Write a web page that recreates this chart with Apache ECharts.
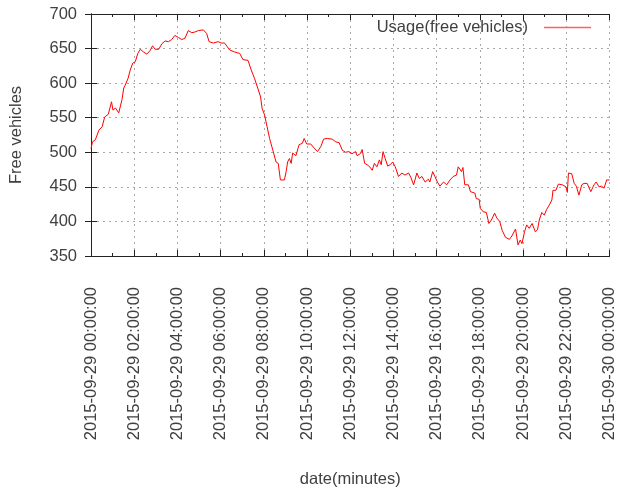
<!DOCTYPE html>
<html>
<head>
<meta charset="utf-8">
<script src="https://cdn.jsdelivr.net/npm/echarts@6/dist/echarts.min.js"></script>
<style>
  html, body { margin: 0; padding: 0; background: #fff; }
  #chart { width: 618px; height: 489px; }
</style>
</head>
<body>
<div id="chart"></div>
<script>
// minutes since 2015-09-29 00:00
const minutes = [
  0, 4, 12, 22, 31, 38, 48, 57, 61, 68,
  77, 82, 86, 91, 95, 103, 109, 116, 123, 130,
  137, 146, 155, 164, 171, 178, 188, 197, 206, 215,
  224, 233, 243, 252, 261, 270, 280, 289, 298, 312,
  321, 328, 340, 353, 362, 371, 376, 385, 399, 413,
  422, 436, 445, 454, 463, 471, 475, 482, 489, 496,
  505, 514, 520, 526, 537, 542, 546, 551, 556, 560,
  569, 578, 587, 592, 599, 610, 620, 629, 638, 646,
  656, 670, 680, 689, 698, 707, 716, 725, 735, 739,
  748, 753, 760, 767, 774, 781, 787, 794, 801, 806,
  811, 817, 824, 831, 838, 845, 854, 863, 872, 882,
  888, 896, 905, 912, 919, 928, 937, 941, 949, 955,
  962, 969, 979, 988, 997, 1006, 1015, 1020, 1029, 1033,
  1038, 1048, 1054, 1066, 1070, 1078, 1081, 1089, 1098, 1105,
  1112, 1121, 1127, 1135, 1142, 1151, 1162, 1169, 1179, 1186,
  1192, 1197, 1204, 1210, 1217, 1225, 1234, 1240, 1245, 1252,
  1259, 1265, 1273, 1280, 1283, 1291, 1298, 1309, 1319, 1323,
  1326, 1335, 1342, 1348, 1355, 1363, 1369, 1378, 1388, 1397,
  1403, 1411, 1418, 1425, 1432, 1440
];
const freeVehicles = [
  505, 515, 518, 532, 537, 551, 555, 573, 561, 564,
  557, 559, 576, 593, 597, 607, 619, 629, 631, 643,
  649, 645, 642, 647, 654, 649, 649, 657, 661, 660,
  663, 669, 666, 663, 665, 676, 673, 674, 676, 677,
  672, 660, 658, 660, 658, 658, 660, 648, 645, 643,
  634, 633, 619, 607, 593, 580, 564, 554, 537, 520,
  503, 486, 484, 460, 460, 472, 486, 491, 484, 499,
  495, 511, 513, 520, 512, 512, 506, 501, 508, 519,
  520, 519, 515, 514, 503, 500, 501, 498, 501, 495,
  498, 504, 484, 482, 479, 474, 484, 479, 489, 482,
  501, 491, 480, 482, 486, 479, 465, 470, 467, 470,
  464, 453, 470, 462, 465, 457, 461, 457, 472, 465,
  457, 451, 457, 453, 460, 465, 467, 479, 472, 478,
  453, 453, 443, 441, 433, 432, 419, 414, 413, 397,
  402, 412, 405, 400, 387, 377, 374, 379, 389, 366,
  373, 368, 385, 395, 390, 397, 385, 388, 402, 413,
  409, 417, 424, 431, 445, 445, 454, 453, 450, 442,
  470, 469, 455, 451, 438, 453, 455, 455, 443, 453,
  457, 450, 451, 448, 460, 460
];
const hourTicks = [0, 2, 4, 6, 8, 10, 12, 14, 16, 18, 20, 22, 24];
const yTicks = [350, 400, 450, 500, 550, 600, 650, 700];

const pad = n => String(n).padStart(2, '0');
const hourLabel = h => (h >= 24 ? '2015-09-30 00:00:00' : `2015-09-29 ${pad(h)}:00:00`);

const chart = echarts.init(document.getElementById('chart'));
const font = 'Liberation Sans';
const fs = 16.5;
const textColor = '#404040';
const frame = '#222';
const grid = { color: '#a8a8a8', type: [2, 4], width: 1 };

chart.setOption({
  animation: false,
  backgroundColor: '#fff',
  textStyle: { fontFamily: font },
  grid: { left: 90, right: 6, top: 14, bottom: 233, containLabel: false },
  legend: {
    right: 22,
    top: 14,
    align: 'right',
    icon: 'rect',
    itemWidth: 47,
    itemHeight: 1.5,
    itemStyle: { color: '#ff6060' },
    textStyle: { fontFamily: font, fontSize: fs, color: textColor, padding: [0, 11, 0, 0] },
    data: ['Usage(free vehicles)']
  },
  xAxis: [
    {
      type: 'value',
      min: hourTicks[0],
      max: hourTicks[hourTicks.length - 1],
      interval: 2,
      name: 'date(minutes)',
      nameLocation: 'middle',
      nameGap: 215,
      nameTextStyle: { fontFamily: font, fontSize: fs, color: textColor },
      axisLine: { lineStyle: { color: frame, width: 1 } },
      axisTick: { inside: true, length: 6, lineStyle: { color: frame } },
      minorTick: { show: true, splitNumber: 2, length: 3, lineStyle: { color: frame } },
      splitLine: { show: true, lineStyle: grid },
      axisLabel: {
        rotate: 90,
        margin: 31,
        fontFamily: font,
        fontSize: fs,
        color: textColor,
        formatter: v => hourLabel(v)
      }
    },
    {
      type: 'value',
      position: 'top',
      min: hourTicks[0],
      max: hourTicks[hourTicks.length - 1],
      interval: 2,
      axisLine: { lineStyle: { color: frame, width: 1 } },
      axisTick: { inside: true, length: 6, lineStyle: { color: frame } },
      minorTick: { show: true, splitNumber: 2, length: 3, lineStyle: { color: frame } },
      splitLine: { show: false },
      axisLabel: { show: false }
    }
  ],
  yAxis: [
    {
      type: 'value',
      min: yTicks[0],
      max: yTicks[yTicks.length - 1],
      interval: 50,
      name: 'Free vehicles',
      nameLocation: 'middle',
      nameGap: 66,
      nameTextStyle: { fontFamily: font, fontSize: fs, color: textColor },
      axisLine: { show: true, lineStyle: { color: frame, width: 1 } },
      axisTick: { show: true, inside: true, length: 6, lineStyle: { color: frame } },
      splitLine: { show: true, lineStyle: grid },
      axisLabel: { margin: 14, fontFamily: font, fontSize: fs, color: textColor }
    },
    {
      type: 'value',
      position: 'right',
      min: yTicks[0],
      max: yTicks[yTicks.length - 1],
      interval: 50,
      axisLine: { show: true, lineStyle: { color: frame, width: 1 } },
      axisTick: { show: true, inside: true, length: 6, lineStyle: { color: frame } },
      splitLine: { show: false },
      axisLabel: { show: false }
    }
  ],
  series: [
    {
      name: 'Usage(free vehicles)',
      type: 'line',
      showSymbol: false,
      symbol: 'none',
      color: '#ff0000',
      lineStyle: { color: '#ff0000', width: 1 },
      data: minutes.map((m, i) => [m / 60, freeVehicles[i]])
    }
  ]
});
</script>
</body>
</html>
